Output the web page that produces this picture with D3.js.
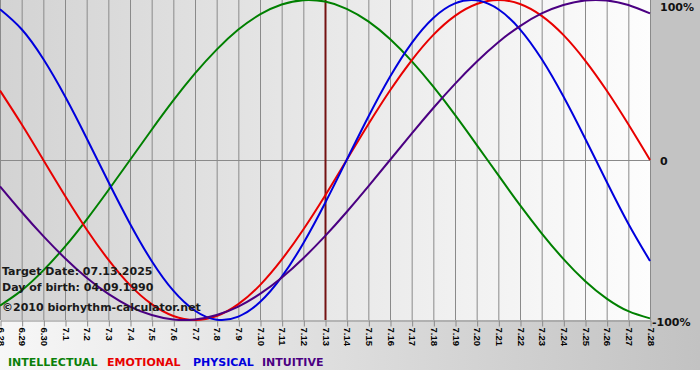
<!DOCTYPE html>
<html>
<head>
<meta charset="utf-8">
<script src="https://cdn.jsdelivr.net/npm/d3@7/dist/d3.min.js"></script>
<style>
  html, body { margin: 0; padding: 0; background: #ffffff; }
  svg { display: block; }
</style>
</head>
<body>
<svg id="chart" width="700" height="380"></svg>
<script>
// ---- data ----
const dates = ["6.28","6.29","6.30","7.1","7.2","7.3","7.4","7.5","7.6","7.7","7.8","7.9","7.10","7.11","7.12","7.13","7.14","7.15","7.16","7.17","7.18","7.19","7.20","7.21","7.22","7.23","7.24","7.25","7.26","7.27","7.28"];
const intellectual = [-91.0,-81.5,-69.0,-54.1,-37.2,-18.9,0,18.9,37.2,54.1,69.0,81.5,91.0,97.2,99.9,99.0,94.5,86.6,75.6,61.8,45.8,28.2,9.5,-9.5,-28.2,-45.8,-61.8,-75.6,-86.6,-94.5,-99.0];
const emotional = [43.4,22.3,0,-22.3,-43.4,-62.3,-78.2,-90.1,-97.5,-100,-97.5,-90.1,-78.2,-62.3,-43.4,-22.3,0,22.3,43.4,62.3,78.2,90.1,97.5,100,97.5,90.1,78.2,62.3,43.4,22.3,0];
const physical = [94.2,81.7,63.1,39.8,13.6,-13.6,-39.8,-63.1,-81.7,-94.2,-99.8,-97.9,-88.8,-73.1,-52.0,-27.0,0,27.0,52.0,73.1,88.8,97.9,99.8,94.2,81.7,63.1,39.8,13.6,-13.6,-39.8,-63.1];
const intuitive = [-16.5,-32.5,-47.6,-61.4,-73.6,-83.7,-91.6,-96.9,-99.7,-99.7,-96.9,-91.6,-83.7,-73.6,-61.4,-47.6,-32.5,-16.5,0,16.5,32.5,47.6,61.4,73.6,83.7,91.6,96.9,99.7,99.7,96.9,91.6];
const seriesNames = ["INTELLECTUAL","EMOTIONAL","PHYSICAL","INTUITIVE"];
const seriesColors = ["#008000","#e80000","#0000dd","#4b0082"];
const legendColors = ["#0a800a","#e80000","#0000dd","#4b0082"];
const yTickLabels = ["100%","0","-100%"];
const yTickValues = [100,0,-100];
const targetDate = "7.13";
const infoLines = ["Target Date: 07.13.2025","Day of birth: 04.09.1990","\u00a92010 biorhythm-calculator.net"];

// ---- layout ----
const svg = d3.select("#chart");
const W = 700, H = 380;
const plot = {left: 0, top: 0, right: 650, bottom: 320};

const defs = svg.append("defs");
const bgGrad = defs.append("linearGradient").attr("id","bgGrad").attr("x1","0").attr("x2","1").attr("y1","0").attr("y2","0");
bgGrad.append("stop").attr("offset","0").attr("stop-color","#f7f7f7");
bgGrad.append("stop").attr("offset","1").attr("stop-color","#c2c2c2");
const plotGrad = defs.append("linearGradient").attr("id","plotGrad").attr("x1","0").attr("x2","1").attr("y1","0").attr("y2","0");
plotGrad.append("stop").attr("offset","0").attr("stop-color","#d3d3d3");
plotGrad.append("stop").attr("offset","1").attr("stop-color","#fdfdfd");

svg.append("rect").attr("x",0).attr("y",0).attr("width",W).attr("height",370).attr("fill","url(#bgGrad)");
svg.append("rect").attr("x",plot.right).attr("y",0).attr("width",W-plot.right).attr("height",330).attr("fill","#c3c3c3");
svg.append("rect").attr("x",0).attr("y",370).attr("width",W).attr("height",10).attr("fill","#ffffff");
svg.append("rect").attr("x",plot.left).attr("y",plot.top).attr("width",plot.right-plot.left).attr("height",plot.bottom-plot.top).attr("fill","url(#plotGrad)");

const x = d3.scalePoint().domain(dates).range([plot.left, plot.right]);
const y = d3.scaleLinear().domain([-100,100]).range([plot.bottom, plot.top]);

// vertical gridlines
svg.append("g").selectAll("line").data(dates).join("line")
  .attr("x1", d => x(d) + 0.5).attr("x2", d => x(d) + 0.5)
  .attr("y1", plot.top).attr("y2", plot.bottom)
  .attr("stroke", "#8a8a8a").attr("stroke-width", 1);

// zero line
svg.append("line").attr("x1", plot.left).attr("x2", plot.right)
  .attr("y1", y(0) + 0.5).attr("y2", y(0) + 0.5)
  .attr("stroke", "#8a8a8a").attr("stroke-width", 1);

// bottom axis
const xAxis = d3.axisBottom(x).tickSize(6).tickSizeOuter(0);
const gx = svg.append("g").attr("transform", `translate(0.5,${plot.bottom + 0.5})`).call(xAxis);
gx.select(".domain").attr("stroke", "#8a8a8a");
gx.selectAll(".tick line").attr("stroke", "#8a8a8a");
gx.selectAll(".tick text")
  .attr("font-family", "Liberation Sans, Arial, sans-serif")
  .attr("font-size", 9.5)
  .attr("font-weight", "bold")
  .attr("fill", "#000")
  .attr("text-anchor", "start")
  .attr("transform", "rotate(90)")
  .attr("x", 7).attr("y", 0).attr("dy", "0.35em");

// target date line
svg.append("line")
  .attr("x1", x(targetDate) + 0.5).attr("x2", x(targetDate) + 0.5)
  .attr("y1", plot.top).attr("y2", plot.bottom)
  .attr("stroke", "#741212").attr("stroke-width", 2);

// curves
const allSeries = [intellectual, emotional, physical, intuitive];
const line = d3.line()
  .x((d, i) => x(dates[i]))
  .y(d => y(d))
  .curve(d3.curveNatural);
svg.append("g").selectAll("path").data(allSeries).join("path")
  .attr("d", d => line(d))
  .attr("fill", "none")
  .attr("stroke", (d, i) => seriesColors[i])
  .attr("stroke-width", 2);

// right y labels
const yLabelX = [660, 660, 652];
const yLabelOffset = [7, 1.5, 2.5];
svg.append("g").selectAll("text").data(yTickValues).join("text")
  .attr("x", (d, i) => yLabelX[i])
  .attr("y", (d, i) => y(d) + yLabelOffset[i])
  .attr("dy", "0.35em")
  .attr("font-family", "DejaVu Sans, Verdana, sans-serif")
  .attr("font-weight", "bold")
  .attr("font-size", 11)
  .attr("fill", "#111")
  .text((d, i) => yTickLabels[i]);

// info text
svg.append("g").selectAll("text").data(infoLines).join("text")
  .attr("x", 2)
  .attr("y", (d, i) => [275, 291, 311][i])
  .attr("font-family", "DejaVu Sans, Verdana, sans-serif")
  .attr("font-weight", "bold")
  .attr("font-size", 11)
  .attr("fill", "#1a1a1a")
  .text(d => d);

// legend
const legendX = [8, 107, 193, 262];
svg.append("g").selectAll("text").data(seriesNames).join("text")
  .attr("x", (d, i) => legendX[i])
  .attr("y", 366)
  .attr("font-family", "DejaVu Sans, Verdana, sans-serif")
  .attr("font-weight", "bold")
  .attr("font-size", 11)
  .attr("fill", (d, i) => legendColors[i])
  .text(d => d);
</script>
</body>
</html>
